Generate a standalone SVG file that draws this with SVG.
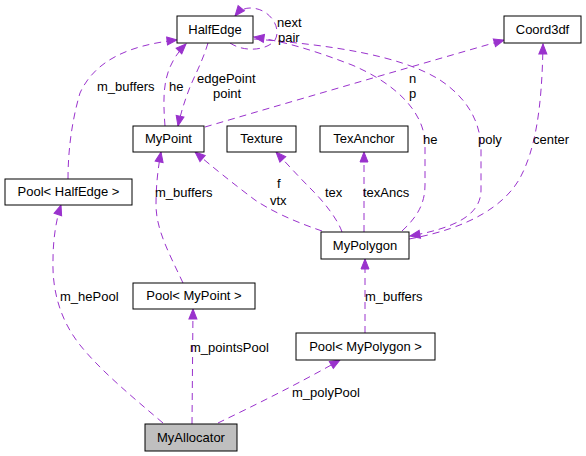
<svg xmlns="http://www.w3.org/2000/svg" width="586" height="456" viewBox="0 0 586 456">
<style>
.n rect{fill:#fff;stroke:#000;stroke-width:1}
.n text,.lb text{font-family:"Liberation Sans",Arial,sans-serif;font-size:13px;fill:#000}
.n text{text-anchor:middle}
.e path{fill:none;stroke:#9a32cd;stroke-width:1;stroke-dasharray:7,5}
.e path.h{marker-end:url(#a)}
</style>
<defs>
<marker id="a" markerWidth="11" markerHeight="9" refX="10" refY="4" orient="auto" markerUnits="userSpaceOnUse" overflow="visible">
<path d="M0,0 L10,4 L0,8 z" fill="#9a32cd" stroke="#9a32cd" stroke-width="1"/>
</marker>
</defs>
<rect width="586" height="456" fill="#fff"/>
<g class="e" id="edges">
<path class="h" d="M230,43 C245,53 268,50 275,40 C282,28 270,8 250,8 C244,8 239,11 235,16"/>
<path class="h" d="M402,231 C416,218 425,205 425,185 L425,145 C425,110 392,82 352,65 C318,52 288,42 254,37"/>
<path class="h" d="M254,39 C330,45 400,55 440,80 C470,100 481,125 481,150 L481,190 C481,215 455,228 410,236"/>
<path class="h" d="M409,239 C470,228 505,205 520,178 C535,150 542,110 543,44"/>
<path class="h" d="M68,179 C68,150 72,120 80,93 C95,60 130,45 177,40"/>
<path class="h" d="M165,126 C163,100 163,80 172,63 C176,55 180,50 186,44"/>
<path class="h" d="M208,43 C203,60 195,75 190,87 C185,100 181,112 178,126"/>
<path class="h" d="M205,127 C280,105 400,70 504,40"/>
<path class="h" d="M183,283 C170,255 156,230 156,205 C156,185 158,168 161,152"/>
<path class="h" d="M322,231 C290,220 270,210 255,200 C235,185 210,165 195,152"/>
<path class="h" d="M342,232 C338,220 325,203 312,190 C300,178 288,165 276,152"/>
<path class="h" d="M364,232 L364,152"/>
<path class="h" d="M365,333 L365,259"/>
<path class="h" d="M163,423 C130,395 100,370 80,345 C60,320 52,290 53,260 C53,240 56,220 61,205"/>
<path class="h" d="M192,424 L193,309"/>
<path class="h" d="M218,423 C255,405 300,383 340,360"/>
</g>
<g class="lb" id="labels">
<text x="277" y="27">next</text>
<text x="278" y="42">pair</text>
<text x="97" y="91">m_buffers</text>
<text x="169" y="91">he</text>
<text x="197" y="83">edgePoint</text>
<text x="213" y="98">point</text>
<text x="409" y="83">n</text>
<text x="409" y="98">p</text>
<text x="423" y="144">he</text>
<text x="478" y="144">poly</text>
<text x="533" y="144">center</text>
<text x="155" y="197">m_buffers</text>
<text x="277" y="188">f</text>
<text x="270" y="205">vtx</text>
<text x="325" y="197">tex</text>
<text x="363" y="197">texAncs</text>
<text x="365" y="301">m_buffers</text>
<text x="60" y="301">m_hePool</text>
<text x="190" y="352">m_pointsPool</text>
<text x="292" y="397">m_polyPool</text>
</g>
<g class="n" id="HalfEdge"><rect x="177" y="16" width="76" height="27"/><text x="215" y="34">HalfEdge</text></g>
<g class="n" id="Coord3df"><rect x="504" y="16" width="77" height="27"/><text x="542.5" y="34">Coord3df</text></g>
<g class="n" id="MyPoint"><rect x="133" y="126" width="71" height="26"/><text x="168.5" y="143">MyPoint</text></g>
<g class="n" id="Texture"><rect x="227" y="126" width="69" height="26"/><text x="261.5" y="143">Texture</text></g>
<g class="n" id="TexAnchor"><rect x="320" y="126" width="88" height="26"/><text x="364" y="143">TexAnchor</text></g>
<g class="n" id="PoolHalfEdge"><rect x="5" y="179" width="127" height="26"/><text x="68.5" y="196">Pool&lt; HalfEdge &gt;</text></g>
<g class="n" id="MyPolygon"><rect x="321" y="232" width="88" height="27"/><text x="365" y="250">MyPolygon</text></g>
<g class="n" id="PoolMyPoint"><rect x="133" y="283" width="122" height="26"/><text x="194" y="300">Pool&lt; MyPoint &gt;</text></g>
<g class="n" id="PoolMyPolygon"><rect x="296" y="333" width="139" height="27"/><text x="365.5" y="351">Pool&lt; MyPolygon &gt;</text></g>
<g class="n" id="MyAllocator"><rect x="145" y="424" width="92" height="27" style="fill:#bfbfbf"/><text x="191" y="442">MyAllocator</text></g>
</svg>
